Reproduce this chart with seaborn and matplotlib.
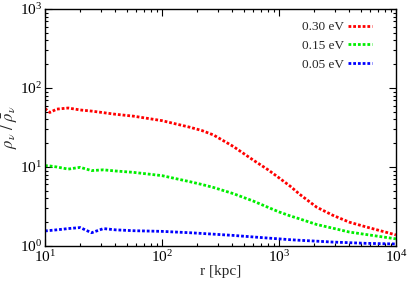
import pandas as pd
import seaborn as sns
import matplotlib.pyplot as plt

# radius grid [kpc] and density contrast for each neutrino mass
r_kpc = [10, 11, 12.6, 15.8, 20, 25, 31.6, 40, 57, 100, 174, 220, 276, 407, 604,
         800, 1000, 1250, 1507, 2100, 2880, 4000, 5500, 10000]
rho_030 = [55, 49, 54, 55.8, 52.7, 51, 48.7, 46.5, 44, 38.6, 31.8, 28.9, 25.4,
           18.2, 12.2, 9.3, 7.3, 5.7, 4.5, 3.1, 2.45, 2.0, 1.75, 1.38]
rho_015 = [10.4, 10.3, 10.0, 9.4, 9.9, 9.0, 9.2, 8.9, 8.55, 7.77, 6.5, 6.0, 5.5,
           4.6, 3.7, 3.1, 2.7, 2.4, 2.2, 1.87, 1.68, 1.5, 1.4, 1.23]
rho_005 = [1.55, 1.57, 1.6, 1.66, 1.71, 1.47, 1.66, 1.6, 1.56, 1.53, 1.47, 1.44,
           1.41, 1.36, 1.3, 1.26, 1.23, 1.2, 1.18, 1.15, 1.12, 1.1, 1.08, 1.06]
labels = ['0.30 eV', '0.15 eV', '0.05 eV']
colors = ['#ff0000', '#00ee00', '#0000ff']

df = pd.concat([
    pd.DataFrame({'r': r_kpc, 'rho': vals, 'mass': lab})
    for vals, lab in zip([rho_030, rho_015, rho_005], labels)
])

sns.set_theme(style='ticks')
plt.rcParams['font.family'] = ['Liberation Serif', 'DejaVu Serif']
plt.rcParams['mathtext.fontset'] = 'stix'

fig = plt.figure(figsize=(4.09, 2.86), dpi=100)
ax = fig.add_axes([0.110, 0.140, 0.858, 0.8285])

sns.lineplot(data=df, x='r', y='rho', hue='mass', hue_order=labels,
             palette=colors, linewidth=2, ax=ax, sort=False)
for line in ax.get_lines():
    line.set_linestyle((0, (1.0, 0.7)))

ax.set_xscale('log')
ax.set_yscale('log')
ax.set_xlim(10, 1e4)
ax.set_ylim(1, 1e3)
ax.set_xlabel('r [kpc]', fontsize=11, labelpad=0)
ax.set_ylabel(r'$\rho_\nu\ /\ \bar{\rho}_\nu$', fontsize=12, labelpad=1)

ax.tick_params(which='both', direction='in', top=True, right=True,
               labelsize=11, colors='black', width=0.8)
ax.tick_params(which='major', length=5, pad=2)
ax.tick_params(which='minor', length=2.5)
for s in ax.spines.values():
    s.set_linewidth(1)
    s.set_color('black')

leg = ax.legend(loc='upper right', bbox_to_anchor=(0.965, 1.0), frameon=False,
                markerfirst=False, fontsize=9.5, handlelength=1.8,
                labelspacing=0.5, handletextpad=0.3)
for h in leg.get_lines():
    h.set_linestyle((0, (1.0, 0.7)))
    h.set_linewidth(2)

fig.savefig('out.png', dpi=100)
